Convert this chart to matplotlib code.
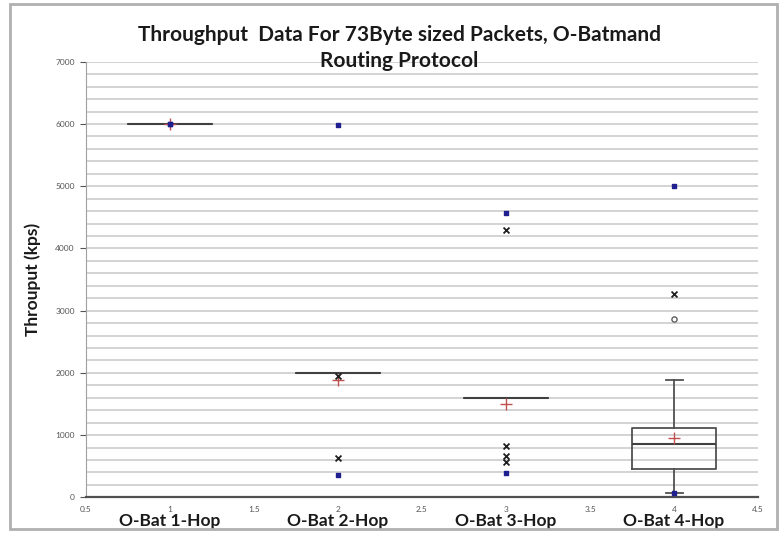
import matplotlib
matplotlib.use("Agg")
import matplotlib.pyplot as plt
from matplotlib.patches import Rectangle

# 数据
categories = ['O-Bat 1-Hop', 'O-Bat 2-Hop', 'O-Bat 3-Hop', 'O-Bat 4-Hop']
positions = [1, 2, 3, 4]
q1 = [6000, 2000, 1600, 450]
medians = [6000, 2000, 1600, 855]
q3 = [6000, 2000, 1600, 1110]
whis_lo = [6000, 2000, 1600, 65]
whis_hi = [6000, 2000, 1600, 1890]
means = [6000, 1890, 1500, 950]
mins = [6000, 360, 390, 65]
maxs = [6000, 5980, 4565, 5000]
outliers = [[], [1950, 630], [4290, 820, 660, 565], [3275]]
circles = [[], [], [], [2870]]

plt.rcParams['font.family'] = ['Lato', 'DejaVu Sans']

fig = plt.figure(figsize=(7.8, 5.33), dpi=100)
ax = fig.add_axes([0.110, 0.067, 0.862, 0.817])

# 箱线图
stats = []
for i in range(len(positions)):
    stats.append({'q1': q1[i], 'med': medians[i], 'q3': q3[i],
                  'whislo': whis_lo[i], 'whishi': whis_hi[i],
                  'mean': means[i], 'fliers': []})
ax.bxp(stats, positions=positions, widths=0.5, showfliers=False,
       showmeans=False, capwidths=0.1,
       boxprops=dict(color='#505050', lw=1.3),
       medianprops=dict(color='#404040', lw=1.5),
       whiskerprops=dict(color='#505050', lw=1.3),
       capprops=dict(color='#505050', lw=1.3), zorder=3)

# 均值、最小值/最大值、异常值
ax.scatter(positions, means, marker='+', s=85, color='#c0504d', lw=1.0, zorder=4)
ax.scatter(positions, mins, marker='s', s=10, color='#1f1f8f', zorder=5)
ax.scatter(positions, maxs, marker='s', s=10, color='#1f1f8f', zorder=5)
for p, vals in zip(positions, outliers):
    ax.scatter([p] * len(vals), vals, marker='x', s=18, color='#202020', lw=1.3, zorder=5)
for p, vals in zip(positions, circles):
    ax.scatter([p] * len(vals), vals, marker='o', s=14, facecolor='white',
               edgecolor='#606060', lw=1.0, zorder=5)

# 坐标轴
ax.set_xlim(0.5, 4.5)
ax.set_ylim(0, 7000)
ax.set_yticks(range(0, 7001, 1000))
ax.set_yticks(range(0, 7001, 200), minor=True)
ax.yaxis.grid(True, which='both', color='#d0d0d0', lw=1.3)
ax.set_axisbelow(True)
ax.set_xticks([0.5, 1, 1.5, 2, 2.5, 3, 3.5, 4, 4.5])
ax.set_xticklabels(['0.5', '1', '1.5', '2', '2.5', '3', '3.5', '4', '4.5'])
ax.tick_params(axis='x', length=0, labelsize=6, colors='#555555', pad=6)
ax.tick_params(axis='y', which='major', length=4, labelsize=6, colors='#555555',
               direction='out', pad=4)
ax.tick_params(axis='y', which='minor', length=0)
for side in ['top', 'right']:
    ax.spines[side].set_visible(False)
ax.spines['left'].set_color('#a0a0a0')
ax.spines['bottom'].set_color('#505050')
ax.spines['bottom'].set_linewidth(1.6)

for p, c in zip(positions, categories):
    ax.text(p, -0.055, c, transform=ax.get_xaxis_transform(), ha='center', va='center',
            fontsize=12.5, fontweight='bold', color='#1a1a1a')

ax.set_ylabel('Throuput (kps)', fontsize=12.5, fontweight='bold', color='#1a1a1a', labelpad=10)

fig.text(0.512, 0.935, 'Throughput  Data For 73Byte sized Packets, O-Batmand',
         ha='center', va='center', fontsize=15, fontweight='bold', color='#1a1a1a')
fig.text(0.512, 0.885, 'Routing Protocol', ha='center', va='center',
         fontsize=15, fontweight='bold', color='#1a1a1a')

# 外框
fig.patches.append(Rectangle((0.013, 0.008), 0.983, 0.985, transform=fig.transFigure,
                             fill=False, edgecolor='#b0b0b0', lw=2))

fig.savefig('out.png', dpi=100)
